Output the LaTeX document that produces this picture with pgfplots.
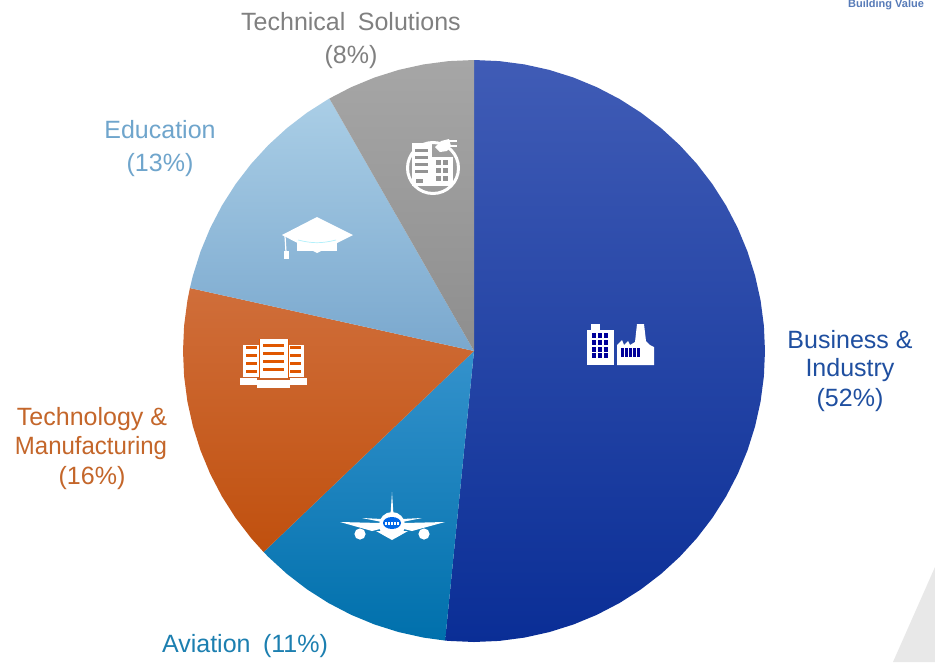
\documentclass[border=0pt]{standalone}
\usepackage{fontspec}
\setmainfont{Liberation Sans}
\usepackage{pgfplots}
\pgfplotsset{compat=1.18}
\usepgfplotslibrary{polar}
\definecolor{lblgrey}{HTML}{808080}
\definecolor{lbledu}{HTML}{6FA5CC}
\definecolor{lblorg}{HTML}{C4662A}
\definecolor{lblavi}{HTML}{1C7FB0}
\definecolor{lblbus}{HTML}{1F4FA0}
\begin{document}
\begin{tikzpicture}[x=1pt,y=-1pt,
  lab/.style={anchor=base,font=\fontsize{25}{26}\selectfont,inner sep=0pt}]
\path[use as bounding box] (0,0) rectangle (935,662);
\fill[white] (0,0) rectangle (935,662);
\fill[black!9] (935,567) -- (893,662) -- (935,662) -- cycle;
\clip (0,0) rectangle (935,662);
\node[anchor=center,font=\bfseries\fontsize{11}{12}\selectfont,inner sep=0pt,text=lblbus!75] at (886,5) {Building Value};

\begin{polaraxis}[at={(474pt,-351pt)},anchor=center,scale only axis,width=582pt,height=582pt,
  hide axis,ymin=0,ymax=1,xmin=0,xmax=360,clip=false]
% Business & Industry (52%)
\addplot[draw=none,top color={rgb,255:red,64;green,92;blue,182},bottom color={rgb,255:red,10;green,46;blue,150},mark=none] coordinates {
(0,0) (90,1) (85,1) (80,1) (75,1) (70,1) (65,1) (60,1) (55,1) (50,1) (45,1) (40,1) (35,1) (30,1) (25,1) (20,1) (15,1) (10,1) (5,1) (0,1)
(-5,1) (-10,1) (-15,1) (-20,1) (-25,1) (-30,1) (-35,1) (-40,1) (-45,1) (-50,1) (-55,1) (-60,1) (-65,1) (-70,1) (-75,1) (-80,1) (-85,1) (-90,1) (-95,1) (-95.7,1) (0,0)};
% Aviation (11%)
\addplot[draw=none,top color={rgb,255:red,52;green,146;blue,204},bottom color={rgb,255:red,0;green,112;blue,172},mark=none] coordinates {
(0,0) (-95.7,1) (-100,1) (-105,1) (-110,1) (-115,1) (-120,1) (-125,1) (-130,1) (-135,1) (-136.3,1) (0,0)};
% Technology & Manufacturing (16%)
\addplot[draw=none,top color={rgb,255:red,208;green,110;blue,58},bottom color={rgb,255:red,192;green,80;blue,14},mark=none] coordinates {
(0,0) (-136.3,1) (-140,1) (-145,1) (-150,1) (-155,1) (-160,1) (-165,1) (-170,1) (-175,1) (-180,1) (-185,1) (-190,1) (-192.5,1) (0,0)};
% Education (13%)
\addplot[draw=none,top color={rgb,255:red,170;green,206;blue,230},bottom color={rgb,255:red,122;green,168;blue,206},mark=none] coordinates {
(0,0) (-192.5,1) (-195,1) (-200,1) (-205,1) (-210,1) (-215,1) (-220,1) (-225,1) (-230,1) (-235,1) (-240,1) (-240.2,1) (0,0)};
% Technical Solutions (8%)
\addplot[draw=none,top color={rgb,255:red,166;green,166;blue,166},bottom color={rgb,255:red,142;green,142;blue,142},mark=none] coordinates {
(0,0) (-240.2,1) (-245,1) (-250,1) (-255,1) (-260,1) (-265,1) (-270,1) (0,0)};
\end{polaraxis}

% labels
\node[lab,text=lblgrey] at (351,30) {Technical\enspace Solutions};
\node[lab,text=lblgrey] at (351,63) {(8\%)};
\node[lab,text=lbledu] at (160,138) {Education};
\node[lab,text=lbledu] at (160,171) {(13\%)};
\node[lab,text=lblorg] at (92,425) {Technology \&};
\node[lab,text=lblorg,xscale=.96] at (91,454) {Manufacturing};
\node[lab,text=lblorg] at (92,484) {(16\%)};
\node[lab,text=lblavi] at (245,652) {Aviation\enspace(11\%)};
\node[lab,text=lblbus] at (850,348) {Business \&};
\node[lab,text=lblbus] at (850,376) {Industry};
\node[lab,text=lblbus] at (850,406) {(52\%)};

% icon: offices and factory
\fill[white] (591,330) rectangle (600,324);
\fill[white] (587,330) rectangle (614,365);
\fill[white] (617,365) -- (617,345) -- (622,340) -- (624,345) -- (628,341) -- (630,345) -- (635,342) -- (637,324) -- (644,324) -- (646,341) -- (650,345) -- (654,347) -- (654,365) -- cycle;
\foreach \x in {592,598,604} \foreach \y in {333,340,347,353} \fill[blue!60!black] (\x,\y) rectangle +(4,4.5);
\foreach \x in {621,625,629,633,637} \fill[blue!60!black] (\x,348) rectangle +(2.6,9);

% icon: building and plug in a ring
\draw[white,line width=3pt] (433,168) circle (25.5);
\fill[white] (412,143) rectangle (432,186);
\fill[white] (432,157) rectangle (453,186);
\foreach \y in {149,156,163,170} \fill[black!42] (415,\y) rectangle +(13,2.5);
\fill[black!42] (416,179) rectangle +(7,4);
\foreach \x in {436,443} \foreach \y in {160,168,176} \fill[black!42] (\x,\y) rectangle +(4.5,5);
\fill[white] (435,147) -- (441,141) -- (449,139) -- (451,146) -- (447,151) -- (440,152) -- cycle;
\draw[white,line width=1.4pt] (449,141) -- (457,141) (449,146) -- (457,146);

% icon: graduation cap
\fill[white] (282,235) -- (317,217) -- (353,235) -- (317,253) -- cycle;
\fill[white] (297,238) -- (337,238) -- (337,251) -- (297,251) -- cycle;
\draw[black!25!blue!20!cyan!30!white,line width=.7pt] (298,240) to[bend right=14] (336,240);
\draw[white,line width=1.2pt] (285,236) -- (286,252);
\fill[white] (284,251) rectangle (289,259);

% icon: servers
\fill[white] (243,345) rectangle (304,377);
\fill[white] (259,339) rectangle (288,378);
\fill[white] (240,378) rectangle (257,385);
\fill[white] (290,378) rectangle (307,385);
\fill[white] (257,380) rectangle (290,388);
\foreach \y in {346,354,362,370} {
  \fill[black!15!orange!80!red] (246,\y) rectangle +(11,3);
  \fill[black!15!orange!80!red] (263,\y-2) rectangle +(21,3.4);
  \fill[black!15!orange!80!red] (290,\y) rectangle +(11,3);
}
\draw[black!15!orange!80!red,line width=0.7pt] (259,339) -- (259,378) (288,339) -- (288,378);

% icon: aeroplane
\fill[white] (390.5,515) -- (392,492) -- (393.5,515) -- cycle;
\fill[white] (340,522) -- (380,523) -- (380,529) -- (372,531) -- cycle;
\fill[white] (445,522) -- (404,523) -- (404,529) -- (412,531) -- cycle;
\fill[white] (362,518) -- (382,519) -- (382,522) -- cycle;
\fill[white] (422,518) -- (402,519) -- (402,522) -- cycle;
\fill[white] (360,534) circle (5.6);
\fill[white] (424,534) circle (5.6);
\fill[white] (392,525) circle (13);
\fill[white] (376,531) -- (408,531) -- (392,540) -- cycle;
\fill[black!15!blue!60!cyan] (392,523) ellipse (9 and 6);
\foreach \x in {386,389,392,395,398} \fill[white] (\x-.8,522) rectangle +(1.6,2.5);
\end{tikzpicture}
\end{document}
